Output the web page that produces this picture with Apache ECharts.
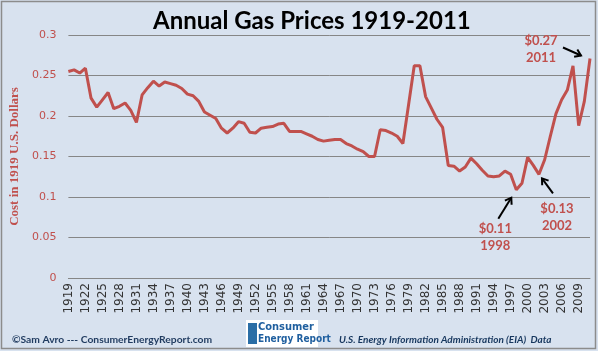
<!DOCTYPE html>
<html>
<head>
    <meta charset="utf-8"/>
    <title>Annual Gas Prices 1919-2011</title>
    <script src="https://cdn.jsdelivr.net/npm/echarts@6/dist/echarts.min.js"></script>
    <style>
        html, body { margin: 0; padding: 0; background: #fff; }
        #chart1 { width: 598px; height: 351px; }
    </style>
</head>
<body>
<div id="chart1"></div>
<script type="text/javascript">
    // years 1919..2011
    var years = [];
    for (var y = 1919; y <= 2011; y++) years.push(String(y));

    // cost in 1919 U.S. dollars
    var prices = [
        0.255, 0.257, 0.253, 0.259, 0.222, 0.211, 0.220, 0.229, 0.209, 0.212,
        0.216, 0.207, 0.192, 0.226, 0.235, 0.243, 0.237, 0.242, 0.240, 0.238,
        0.234, 0.227, 0.225, 0.218, 0.205, 0.201, 0.197, 0.185, 0.179, 0.185,
        0.193, 0.191, 0.180, 0.179, 0.185, 0.186, 0.187, 0.190, 0.191, 0.181,
        0.181, 0.181, 0.178, 0.175, 0.171, 0.169, 0.170, 0.171, 0.171, 0.166,
        0.163, 0.159, 0.156, 0.150, 0.150, 0.183, 0.182, 0.179, 0.175, 0.166,
        0.214, 0.262, 0.262, 0.224, 0.210, 0.196, 0.186, 0.139, 0.138, 0.132,
        0.137, 0.148, 0.141, 0.133, 0.126, 0.125, 0.126, 0.132, 0.128, 0.109,
        0.117, 0.149, 0.139, 0.128, 0.146, 0.175, 0.203, 0.220, 0.232, 0.262,
        0.188, 0.218, 0.271
    ];

    // callouts: year, price label, and where the text/arrow sit relative to the point
    var callouts = [
        {year: '1998', price: '$0.11', tx: -21, ty: 39, tail: [-18, 29], head: [-5, 8]},
        {year: '2002', price: '$0.13', tx: 18, ty: 34, tail: [14, 19], head: [3, 4]},
        {year: '2011', price: '$0.27', tx: -49, ty: -18, tail: [-27, -11], head: [-9, -3]}
    ];

    var red = '#c0504d';
    var myChart1 = echarts.init(document.getElementById('chart1'));

    myChart1.setOption({
        backgroundColor: '#d8e2ef',
        animation: false,
        title: {
            text: 'Annual Gas Prices 1919-2011',
            left: 148,
            top: 4,
            textStyle: {fontFamily: 'Lato', fontWeight: 'bold', fontSize: 24, color: '#000'}
        },
        grid: {left: 58, right: 8, top: 35, bottom: 73},
        xAxis: {
            type: 'category',
            data: years,
            boundaryGap: false,
            axisLine: {lineStyle: {color: '#868686'}},
            axisTick: {show: false},
            axisLabel: {
                rotate: 90,
                interval: 2,
                margin: 5,
                fontFamily: 'DejaVu Sans',
                fontSize: 12,
                color: '#333'
            }
        },
        yAxis: {
            type: 'value',
            min: 0,
            max: 0.3,
            interval: 0.05,
            name: 'Cost in 1919 U.S. Dollars',
            nameLocation: 'middle',
            nameGap: 41,
            nameTextStyle: {fontFamily: 'Liberation Serif', fontWeight: 'bold', fontSize: 13, color: red},
            axisLine: {show: false},
            axisTick: {show: false},
            axisLabel: {margin: 12, fontFamily: 'DejaVu Sans', fontSize: 11, color: red},
            splitLine: {lineStyle: {color: '#868686'}}
        },
        series: [{
            type: 'line',
            data: prices,
            symbol: 'none',
            lineStyle: {color: red, width: 3}
        }],
        graphic: [
            {type: 'rect', z: 100, silent: true, shape: {x: 1.5, y: 1.5, width: 594, height: 347},
                style: {fill: 'none', stroke: '#8c8c8c', lineWidth: 1.5}},
            {type: 'text', left: 12, top: 335, style: {text: '©Sam Avro --- ConsumerEnergyReport.com',
                font: 'bold 10.3px Lato', fill: '#1f3a5f'}},
            {type: 'text', left: 339, top: 335, style: {text: 'U.S. Energy Information Administration (EIA)  Data',
                font: 'italic bold 10px Lato', fill: '#17375e'}},
            // small logo block
            {type: 'rect', shape: {x: 246, y: 320, width: 72, height: 27}, style: {fill: '#fff'}},
            {type: 'rect', shape: {x: 248, y: 323, width: 9, height: 21}, style: {fill: '#2a6ea6'}},
            {type: 'text', left: 258, top: 322, style: {text: 'Consumer', font: 'bold 11px "DejaVu Sans Condensed"', fill: '#1f5f9f'}},
            {type: 'text', left: 258, top: 334, style: {text: 'Energy Report', font: 'bold 10px "DejaVu Sans Condensed"', fill: '#1f5f9f'}}
        ]
    });

    // place callout text and arrows next to their data points
    var extra = [];
    callouts.forEach(function (c) {
        var idx = years.indexOf(c.year);
        var p = myChart1.convertToPixel({seriesIndex: 0}, [idx, prices[idx]]);
        var x0 = p[0] + c.tail[0], y0 = p[1] + c.tail[1];
        var x1 = p[0] + c.head[0], y1 = p[1] + c.head[1];
        var a = Math.atan2(y1 - y0, x1 - x0), L = 7;
        extra.push({type: 'text', style: {x: p[0] + c.tx, y: p[1] + c.ty - 8.5, text: c.price + '\n' + c.year,
            font: 'bold 13px Lato', fill: red, align: 'center', verticalAlign: 'top', lineHeight: 17}});
        extra.push({type: 'polyline', shape: {points: [[x0, y0], [x1, y1]]}, style: {stroke: '#000', lineWidth: 2}});
        extra.push({type: 'polyline', shape: {points: [
            [x1 - L * Math.cos(a - 0.6), y1 - L * Math.sin(a - 0.6)],
            [x1, y1],
            [x1 - L * Math.cos(a + 0.6), y1 - L * Math.sin(a + 0.6)]
        ]}, style: {stroke: '#000', lineWidth: 2, fill: 'none'}});
    });
    var g = myChart1.getOption().graphic[0].elements.slice();
    myChart1.setOption({graphic: g.concat(extra)}, {replaceMerge: ['graphic']});
</script>
</body>
</html>
